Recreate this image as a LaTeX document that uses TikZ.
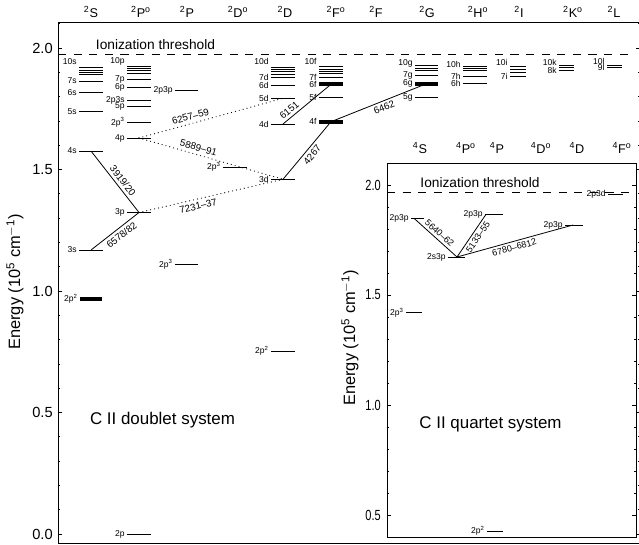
\documentclass[tikz,border=0pt]{standalone}
\usepackage{fontspec}
\setmainfont{Liberation Sans}
\newcommand\fs[1]{\fontsize{#1}{#1}\selectfont}
\tikzset{
  axisline/.style={line width=0.75pt},
  tickline/.style={line width=0.6pt},
  lev/.style={line width=0.75pt},
  thicklev/.style={line width=3pt},
  trans/.style={line width=0.6pt},
  dottrans/.style={line width=0.9pt, line cap=round, dash pattern=on 0pt off 3pt},
  thresh/.style={line width=0.75pt, dash pattern=on 6.2pt off 5.5pt},
  lvlab/.style={font=\fs{6.4}, inner sep=0.5pt, anchor=east},
  tlab/.style={font=\fs{7.3}, inner sep=2.2pt},
  qtlab/.style={font=\fs{6.8}, inner sep=1.8pt},
  hdr/.style={font=\fs{9.5}, inner sep=0pt},
  ticklab/.style={font=\fs{11}, anchor=east, inner sep=0pt},
  bigtxt/.style={font=\fs{12.7}, inner sep=0pt},
  thrtxt/.style={font=\fs{10.3}, inner sep=0pt},
  axlab/.style={font=\fs{12.3}, inner sep=0pt, rotate=90, anchor=west}
}
% level: [style]{name}{x1}{x2}{y}{label}
\newcommand\lv[6][lev]{%
  \draw[#1] (#3,#5) -- (#4,#5);
  \coordinate (#2) at ({(#3+#4)/2},#5);
  \node[lvlab] (#2-l) at ({#3-1.5},#5) {#6};}
% unlabeled stack line
\newcommand\stk[3]{\draw[lev] (#1,#3) -- (#2,#3);}
\begin{document}
\begin{tikzpicture}[x=0.75pt,y=-0.75pt]
\useasboundingbox (0,0) rectangle (639,544);

% ---------------- main frame ----------------
\draw[axisline] (58,543) -- (58,22) -- (641,22);
\draw[axisline] (58,543) -- (641,543);
\foreach \i in {0,...,21}{
  \pgfmathsetmacro\yy{534-24.3*\i}
  \pgfmathsetmacro\tl{ifthenelse(mod(\i,5)==0,4,2)}
  \draw[tickline] (58,\yy) -- ++(\tl,0);
  \draw[tickline] (639.5,\yy) -- ++(-\tl,0);
}
\node[ticklab] (m20) at (53,48) {2.0};
\node[ticklab] (m15) at (53,169.5) {1.5};
\node[ticklab] (m10) at (53,291) {1.0};
\node[ticklab] (m05) at (53,412.5) {0.5};
\node[ticklab] (m00) at (53,534) {0.0};
\node[axlab] (mlab) at (15,350) {Energy (10\textsuperscript{5} cm\textsuperscript{$-$1})};

% headers
\node[hdr] (hS)  at (91,12)  {\textsuperscript{2}S};
\node[hdr] (hPo) at (141,12) {\textsuperscript{2}P\textsuperscript{o}};
\node[hdr] (hP)  at (187,12) {\textsuperscript{2}P};
\node[hdr] (hDo) at (238,12) {\textsuperscript{2}D\textsuperscript{o}};
\node[hdr] (hD)  at (285,12) {\textsuperscript{2}D};
\node[hdr] (hFo) at (336,12) {\textsuperscript{2}F\textsuperscript{o}};
\node[hdr] (hF)  at (376,12) {\textsuperscript{2}F};
\node[hdr] (hG)  at (427,12) {\textsuperscript{2}G};
\node[hdr] (hHo) at (478,12) {\textsuperscript{2}H\textsuperscript{o}};
\node[hdr] (hI)  at (519,12) {\textsuperscript{2}I};
\node[hdr] (hKo) at (573,12) {\textsuperscript{2}K\textsuperscript{o}};
\node[hdr] (hL)  at (614,12) {\textsuperscript{2}L};

% threshold
\coordinate (thL) at (58,54);
\coordinate (thR) at (634,54);
\draw[thresh] (thL) -- (thR);
\node[thrtxt] (thtxt) at (155.5,45) {Ionization threshold};

% 2S
\stk{79}{103}{67.7}\stk{79}{103}{70}\stk{79}{103}{72.3}\stk{79}{103}{74.7}
\node[lvlab] (s10-l) at (77.5,62) {10s};
\lv{s7}{79}{103}{81}{7s}
\lv{s6}{79}{103}{92.3}{6s}
\lv{s5}{79}{103}{111.5}{5s}
\lv{s4}{79}{103}{151}{4s}
\lv{s3}{79}{103}{250}{3s}
\lv[thicklev]{s2}{80}{102}{299}{2p\textsuperscript{2}}

% 2P o
\stk{127}{151}{66.5}\stk{127}{151}{68.7}\stk{127}{151}{70.8}\stk{127}{151}{73}
\node[lvlab] (p10-l) at (125.5,61) {10p};
\lv{p7}{127}{151}{79}{7p}
\lv{p6}{127}{151}{87.7}{6p}
\lv{pps}{127}{151}{100}{2p3s}
\lv{p5}{127}{151}{106.7}{5p}
\lv{pp3}{127}{151}{122.3}{2p\textsuperscript{3}}
\lv{p4}{127}{151}{138}{4p}
\lv{p3}{127}{151}{212.5}{3p}
\lv{p2}{127}{151}{534}{2p}

% 2P
\lv{Ppp}{175}{198}{90.3}{2p3p}
\lv{Pp3}{175}{198}{264.3}{2p\textsuperscript{3}}

% 2D o
\lv{Dop3}{223}{247}{167}{2p\textsuperscript{3}}

% 2D
\stk{271}{295}{67}\stk{271}{295}{69.3}\stk{271}{295}{71.7}\stk{271}{295}{74}
\node[lvlab] (d10-l) at (269.5,61) {10d};
\lv{d7}{271}{295}{77.3}{7d}
\lv{d6}{271}{295}{85.3}{6d}
\lv{d5}{271}{295}{98.3}{5d}
\lv{d4}{271}{295}{124}{4d}
\lv{d3}{271}{295}{179.3}{3d}
\lv{Dp2}{271}{295}{351}{2p\textsuperscript{2}}

% 2F o
\stk{319}{343}{66.5}\stk{319}{343}{69}\stk{319}{343}{71.2}\stk{319}{343}{73.7}
\node[lvlab] (f10-l) at (317.5,61) {10f};
\lv{f7}{319}{343}{77.3}{7f}
\lv[thicklev]{f6}{319}{343}{84.3}{6f}
\lv{f5}{319}{343}{97.7}{5f}
\lv[thicklev]{f4}{319}{343}{121.7}{4f}

% 2G
\stk{415}{438}{65.7}\stk{415}{438}{68.3}\stk{415}{438}{70.7}
\node[lvlab] (g10-l) at (413.5,63) {10g};
\lv{g7}{415}{438}{75.5}{7g}
\lv[thicklev]{g6}{415}{438}{83.7}{6g}
\lv{g5}{415}{438}{97.3}{5g}

% 2H o
\stk{463}{487}{66}\stk{463}{487}{68.3}\stk{463}{487}{70.7}
\node[lvlab] (h10-l) at (461.5,64) {10h};
\lv{h7}{463}{487}{76.5}{7h}
\lv{h6}{463}{487}{83.7}{6h}

% 2I
\stk{510}{526}{66}\stk{510}{526}{69.3}\stk{510}{526}{72.7}
\node[lvlab] (i10-l) at (508.5,62) {10i};
\lv{i7}{510}{526}{76}{7i}

% 2K o
\stk{559}{574}{65}\stk{559}{574}{67.5}
\node[lvlab] (k10-l) at (557.5,62) {10k};
\lv{k8}{559}{574}{70}{8k}

% 2L
\stk{607}{622}{65}
\node[lvlab] (l10-l) at (605.5,61.5) {10l};
\lv{l9}{607}{622}{67.5}{9l}

% transitions (doublet)
\draw[trans] (s4) -- node[tlab, sloped, above, pos=0.55] (t1) {3919/20} (p3);
\draw[trans] (s3) -- node[tlab, sloped, below, pos=0.55] (t2) {6578/82} (p3);
\draw[dottrans] (p3) -- node[tlab, sloped, below, pos=0.4] (t3) {7231--37} (d3);
\draw[dottrans] (p4) -- node[tlab, sloped, above, pos=0.4] (t4) {5889--91} (d3);
\draw[dottrans] (p4) -- node[tlab, sloped, above, pos=0.37] (t5) {6257--59} (d5);
\draw[trans] (d3) -- node[tlab, sloped, below] (t6) {4267} (f4);
\draw[trans] (d4) -- node[tlab, sloped, above, pos=0.22] (t7) {6151} (f6);
\draw[trans] (f4) -- node[tlab, sloped, below, pos=0.53] (t8) {6462} (g6);

\node[bigtxt] (dbl) at (162.5,420) {C II doublet system};

% ---------------- inset ----------------
\draw[axisline, fill=white] (387,163) rectangle (636,537);
\foreach \i in {5,...,20}{
  \pgfmathsetmacro\yy{625-22*\i}
  \pgfmathsetmacro\tl{ifthenelse(mod(\i,5)==0,4,2)}
  \draw[tickline] (387,\yy) -- ++(\tl,0);
  \draw[tickline] (636,\yy) -- ++(-\tl,0);
}
\node[ticklab] (q20) at (381,185) {\scalebox{0.75}[1]{2.0}};
\node[ticklab] (q15) at (381,295) {\scalebox{0.75}[1]{1.5}};
\node[ticklab] (q10) at (381,405) {\scalebox{0.75}[1]{1.0}};
\node[ticklab] (q05) at (381,515) {\scalebox{0.75}[1]{0.5}};
\node[axlab] (qlab) at (350,406) {Energy (10\textsuperscript{5} cm\textsuperscript{$-$1})};

\node[hdr] (qS)  at (420,148) {\textsuperscript{4}S};
\node[hdr] (qPo) at (466,148) {\textsuperscript{4}P\textsuperscript{o}};
\node[hdr] (qP)  at (497,148) {\textsuperscript{4}P};
\node[hdr] (qDo) at (541,148) {\textsuperscript{4}D\textsuperscript{o}};
\node[hdr] (qD)  at (577,148) {\textsuperscript{4}D};
\node[hdr] (qFo) at (622,148) {\textsuperscript{4}F\textsuperscript{o}};

\coordinate (qthL) at (387,192.3);
\coordinate (qthR) at (636,192.3);
\draw[thresh] (qthL) -- (qthR);
\node[thrtxt] (qthtxt) at (480,183) {Ionization threshold};

\lv{qa}{411}{424}{218.3}{2p3p}
\coordinate (qaT) at (414,218.3);
\lv{qb}{406}{422}{312.7}{2p\textsuperscript{3}}
\lv{qc}{448}{465}{257}{2s3p}
\coordinate (qcT) at (457,257);
\lv{qd}{485}{503}{214.3}{2p3p}
\coordinate (qdT) at (486,214.3);
\lv{qe}{487}{503}{531}{2p\textsuperscript{2}}
\lv{qf}{565}{583}{225}{2p3p}
\coordinate (qfT) at (573,225);
\lv{qg}{608}{623}{194.5}{2p3d}

\draw[trans] (qaT) -- node[qtlab, sloped, above, pos=0.5] (u1) {5640--62} (qcT);
\draw[trans] (qcT) -- node[qtlab, sloped, below, pos=0.55] (u2) {5133--55} (qdT);
\draw[trans] (qcT) -- node[qtlab, sloped, below, pos=0.48] (u3) {6780--6812} (qfT);

\node[bigtxt] (qrt) at (490.5,424) {C II quartet system};
\end{tikzpicture}
\end{document}
